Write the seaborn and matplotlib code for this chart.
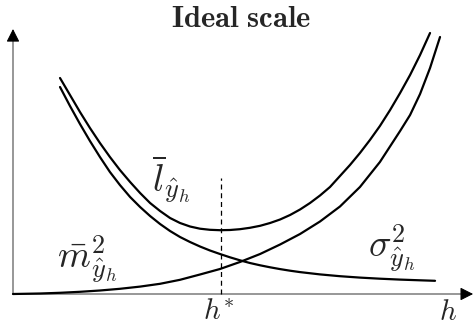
import matplotlib
matplotlib.use("Agg")
import matplotlib.pyplot as plt
import pandas as pd
import seaborn as sns

# Expected loss (bias^2 + variance) against the scale h
loss_h = [0.226, 0.274, 0.322, 0.370, 0.418, 0.466, 0.514, 0.563, 0.611, 0.659,
          0.707, 0.755, 0.803, 0.851, 0.899, 0.947, 0.995, 1.043, 1.091, 1.139,
          1.188, 1.236, 1.284, 1.332, 1.380, 1.428, 1.476, 1.524, 1.572, 1.620,
          1.668, 1.716, 1.764, 1.813, 1.861, 1.909, 1.957, 2.005]
loss_v = [2.16, 1.99, 1.82, 1.66, 1.51, 1.37, 1.24, 1.12, 1.01, 0.91,
          0.83, 0.76, 0.71, 0.675, 0.653, 0.642, 0.638, 0.640, 0.648, 0.662,
          0.682, 0.71, 0.745, 0.79, 0.845, 0.91, 0.985, 1.07, 1.18, 1.29,
          1.41, 1.54, 1.68, 1.84, 2.01, 2.19, 2.39, 2.61]

# Variance term, decreasing in h
sigma_h = [0.226, 0.274, 0.322, 0.370, 0.418, 0.466, 0.514, 0.563, 0.611, 0.659,
           0.707, 0.755, 0.803, 0.851, 0.899, 0.947, 0.995, 1.043, 1.091, 1.139,
           1.188, 1.236, 1.284, 1.332, 1.380, 1.476, 1.572, 1.668, 1.764, 1.861,
           1.957, 2.029]
sigma_v = [2.07, 1.88, 1.70, 1.53, 1.37, 1.22, 1.09, 0.97, 0.87, 0.78,
           0.70, 0.63, 0.57, 0.52, 0.475, 0.435, 0.400, 0.367, 0.337, 0.310,
           0.287, 0.267, 0.249, 0.233, 0.219, 0.196, 0.178, 0.164, 0.153, 0.144,
           0.137, 0.132]

# Squared bias term, increasing in h
bias_h = [0.000, 0.130, 0.226, 0.322, 0.418, 0.514, 0.611, 0.707, 0.803, 0.899,
          0.995, 1.091, 1.188, 1.284, 1.380, 1.476, 1.572, 1.668, 1.764, 1.861,
          1.909, 1.957, 2.005, 2.053]
bias_v = [0.000, 0.005, 0.012, 0.022, 0.035, 0.052, 0.074, 0.102, 0.142, 0.195,
          0.25, 0.32, 0.40, 0.495, 0.60, 0.725, 0.875, 1.07, 1.32, 1.63,
          1.79, 2.00, 2.26, 2.57]

curve_names = ["loss", "variance", "bias2"]
H_STAR = 1.0
H_STAR_TOP = 1.16
H_AXIS_END = 2.212
V_AXIS_END = 2.65

title = r"$\mathbf{Ideal\ scale}$"
loss_label = r"$\overline{l}_{\hat{y}_h}$"
bias_label = r"$\bar{m}^2_{\hat{y}_h}$"
sigma_label = r"$\sigma^2_{\hat{y}_h}$"
hstar_label = r"$h^{*}$"
h_label = r"$h$"

sns.set_theme(style="white")
plt.rcParams["font.family"] = ["DejaVu Serif"]
plt.rcParams["mathtext.fontset"] = "cm"

df = pd.concat([
    pd.DataFrame({"h": loss_h, "value": loss_v, "curve": curve_names[0]}),
    pd.DataFrame({"h": sigma_h, "value": sigma_v, "curve": curve_names[1]}),
    pd.DataFrame({"h": bias_h, "value": bias_v, "curve": curve_names[2]}),
], ignore_index=True)

fig = plt.figure(figsize=(4.74, 3.24), dpi=100)
ax = fig.add_axes([0, 0, 1, 1])

# Coordinate axes: grey shafts with black arrow heads
axis_grey = "#7a7a7a"
ax.plot([0, H_AXIS_END - 0.03], [0, 0], color=axis_grey, lw=1.1, zorder=1)
ax.plot([0, 0], [0, V_AXIS_END - 0.06], color=axis_grey, lw=1.1, zorder=1)
head = dict(arrowstyle="-|>,head_length=0.65,head_width=0.33", color="black",
            lw=0.8, shrinkA=0, shrinkB=0)
ax.annotate("", xy=(H_AXIS_END, 0), xytext=(H_AXIS_END - 0.05, 0), arrowprops=head)
ax.annotate("", xy=(0, V_AXIS_END), xytext=(0, V_AXIS_END - 0.09), arrowprops=head)

sns.lineplot(data=df, x="h", y="value", hue="curve", palette=["black"] * 3,
             estimator=None, sort=False, lw=1.6, legend=False, ax=ax, zorder=3)

# Optimal scale marker
ax.plot([H_STAR, H_STAR], [0, H_STAR_TOP], color="black", lw=0.9,
        dashes=(4, 3), zorder=2)

ax.text(0.668, 1.02, loss_label, fontsize=27, ha="left", va="baseline")
ax.text(0.212, 0.26, bias_label, fontsize=27, ha="left", va="baseline")
ax.text(1.707, 0.37, sigma_label, fontsize=27, ha="left", va="baseline")
ax.text(H_STAR - 0.01, -0.255, hstar_label, fontsize=21, ha="center", va="baseline")
ax.text(2.09, -0.255, h_label, fontsize=21, ha="center", va="baseline")
ax.text(1.096, 2.67, title, fontsize=22, ha="center", va="baseline")

ax.set_xlim(-13 / 208, 461 / 208)
ax.set_ylim(-0.30, 2.94)
ax.axis("off")

fig.savefig("out.png", dpi=100)
